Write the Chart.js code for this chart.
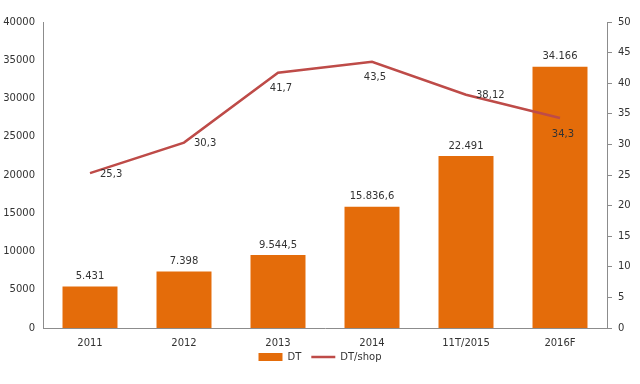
<!DOCTYPE html>
<html lang="en">
<head>
    <meta charset="UTF-8">
    <title>DT and DT/shop</title>
    <style>
        html, body { margin: 0; padding: 0; background: #fff; }
        #wrap { width: 640px; height: 384px; }
    </style>
</head>
<body>
    <div id="wrap"><canvas id="chart"></canvas></div>
    <script src="https://cdn.jsdelivr.net/npm/chart.js"></script>
    <script>
        const years = ['2011', '2012', '2013', '2014', '11T/2015', '2016F'];
        const dtValues = [5431, 7398, 9544.5, 15836.6, 22491, 34166];
        const dtLabels = ['5.431', '7.398', '9.544,5', '15.836,6', '22.491', '34.166'];
        const shopValues = [25.3, 30.3, 41.7, 43.5, 38.12, 34.3];
        const shopLabels = ['25,3', '30,3', '41,7', '43,5', '38,12', '34,3'];
        // where each line label sits relative to its point
        const shopLabelSide = ['right', 'right', 'below', 'below', 'right', 'below'];

        const barColor = '#E46C0A';
        const lineColor = '#BE4B48';
        const textColor = '#333';
        const axisColor = '#8c8c8c';
        const font = { family: 'DejaVu Sans', size: 10 };

        // draw the value labels on bars and line points
        const valueLabels = {
            id: 'valueLabels',
            afterLayout(chart) {
                // pull the legend up closer to the category labels
                chart.legend.top -= 8;
                chart.legend.bottom -= 8;
            },
            afterDatasetsDraw(chart) {
                const ctx = chart.ctx;
                ctx.save();
                ctx.font = '10px "DejaVu Sans"';
                ctx.fillStyle = textColor;
                ctx.textBaseline = 'middle';

                chart.getDatasetMeta(0).data.forEach((bar, i) => {
                    ctx.textAlign = 'center';
                    ctx.fillText(dtLabels[i], bar.x, bar.y - 10);
                });

                chart.getDatasetMeta(1).data.forEach((pt, i) => {
                    if (shopLabelSide[i] === 'right') {
                        ctx.textAlign = 'left';
                        ctx.fillText(shopLabels[i], pt.x + 10, pt.y + 1);
                    } else {
                        ctx.textAlign = 'center';
                        ctx.fillText(shopLabels[i], pt.x + 3, pt.y + 16);
                    }
                });
                ctx.restore();
            }
        };

        new Chart(document.getElementById('chart'), {
            data: {
                labels: years,
                datasets: [{
                    type: 'bar',
                    label: 'DT',
                    data: dtValues,
                    backgroundColor: barColor,
                    yAxisID: 'y',
                    barPercentage: 0.585,
                    categoryPercentage: 1,
                    pointStyle: 'rect',
                    order: 2
                }, {
                    type: 'line',
                    label: 'DT/shop',
                    data: shopValues,
                    borderColor: lineColor,
                    backgroundColor: lineColor,
                    borderWidth: 2.5,
                    pointRadius: 0,
                    pointStyle: 'line',
                    tension: 0,
                    yAxisID: 'y1',
                    order: 1
                }]
            },
            options: {
                responsive: true,
                maintainAspectRatio: false,
                animation: false,
                layout: { padding: { top: 22, bottom: 4, left: 0, right: 0 } },
                plugins: {
                    legend: {
                        position: 'bottom',
                        labels: {
                            color: textColor,
                            font: font,
                            usePointStyle: true,
                            pointStyleWidth: 24,
                            boxWidth: 24,
                            boxHeight: 8,
                            padding: 10,
                            sort: (a, b) => a.datasetIndex - b.datasetIndex
                        }
                    },
                    tooltip: { enabled: false }
                },
                scales: {
                    x: {
                        grid: { display: false, drawTicks: false },
                        border: { color: axisColor },
                        ticks: { color: textColor, font: font, padding: 9 },
                        afterFit(scale) { scale.height = 22; }
                    },
                    y: {
                        position: 'left',
                        min: 0,
                        max: 40000,
                        grid: { display: false, drawTicks: false },
                        border: { color: axisColor },
                        ticks: { stepSize: 5000, color: textColor, font: font, padding: 8, callback: v => String(v) },
                        afterFit(scale) { scale.width = 43; }
                    },
                    y1: {
                        position: 'right',
                        min: 0,
                        max: 50,
                        grid: { drawOnChartArea: false, drawTicks: true, tickLength: 5, color: axisColor },
                        border: { color: axisColor },
                        ticks: { stepSize: 5, color: textColor, font: font, padding: 6 },
                        afterFit(scale) { scale.width = 33; }
                    }
                }
            },
            plugins: [valueLabels]
        });
    </script>
</body>
</html>
